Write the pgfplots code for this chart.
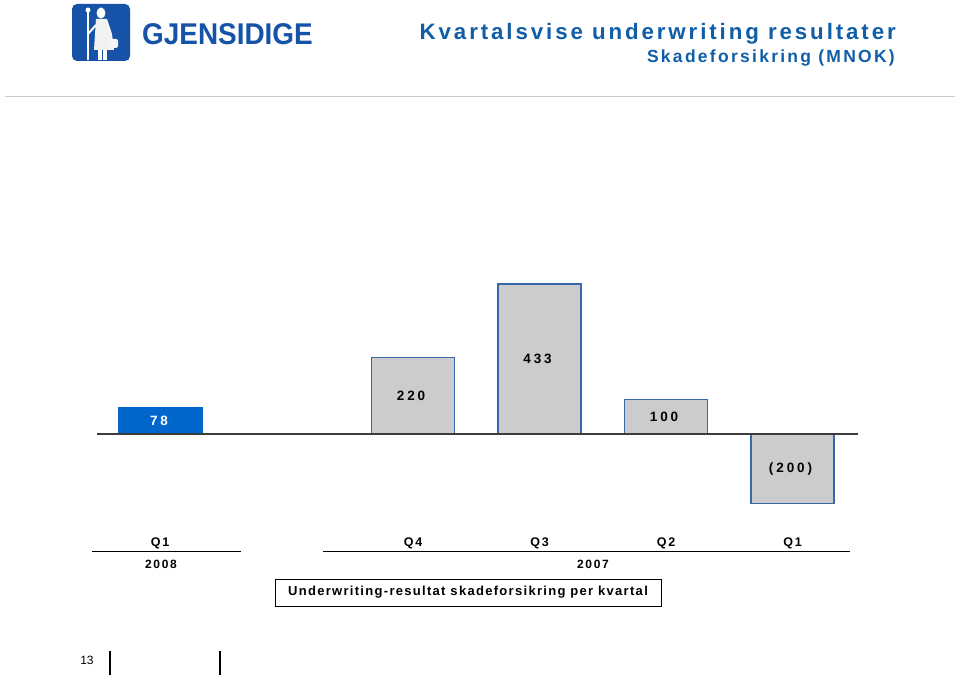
\documentclass[border=0pt]{standalone}
\usepackage{pgfplots}
\pgfplotsset{compat=1.18}
\usepackage{pgfplotstable}
\usepackage{fontspec}
\setmainfont{Liberation Sans}
\newfontfamily\titlefont[LetterSpace=13]{Liberation Sans}
\newfontfamily\lblfont[LetterSpace=14]{Liberation Sans}
\newfontfamily\numfont[LetterSpace=22]{Liberation Sans}
\newfontfamily\boxfont[LetterSpace=10]{Liberation Sans}
\newfontfamily\logofont[FakeStretch=0.93]{Liberation Sans}
\definecolor{titleblue}{RGB}{16,94,168}
\definecolor{logoblue}{RGB}{22,82,168}
\definecolor{barblue}{RGB}{0,102,204}
\definecolor{bargray}{RGB}{204,204,204}
\definecolor{edgeblue}{RGB}{55,105,170}
\definecolor{sepgray}{RGB}{205,205,205}
\definecolor{zeroline}{RGB}{60,60,60}

\pgfplotstableread{
x v label
0 78 78
}\bluedata

\pgfplotstableread{
x v label
2 220 220
3 433 433
4 100 100
5 -200 (200)
}\greydata

\begin{document}
\begin{tikzpicture}[x=1pt,y=1pt]
\path[use as bounding box, fill=white] (0pt,0pt) rectangle (960pt,678pt);
\begin{axis}[
  at={(96.75pt,145.27pt)}, anchor=south west,
  scale only axis, width=759pt, height=254.6pt,
  xmin=-0.5, xmax=5.5, ymin=-285, ymax=450,
  axis line style={draw=none},
  ytick=\empty,
  xtick={0,2,3,4,5},
  xticklabels={Q1,Q4,Q3,Q2,Q1},
  major tick length=0pt,
  xticklabel style={font=\lblfont\bfseries\fontsize{12.5}{12.5}\selectfont, text=black, yshift=-2pt},
  clip=false,
]
\addplot[ybar, bar width=84pt, bar shift=0pt, fill=barblue, draw=barblue] table[x=x, y=v] {\bluedata};
\addplot[ybar, bar width=83pt, bar shift=0pt, fill=bargray, draw=edgeblue, line width=1.1pt] table[x=x, y=v] {\greydata};
\draw[zeroline, line width=1.6pt] (axis cs:-0.5,0) -- (axis cs:5.52,0);
\addplot[draw=none, mark=none, nodes near coords, point meta=explicit symbolic,
  every node near coord/.append style={anchor=center, xshift=-1pt, text=white, font=\numfont\bfseries\fontsize{13.5}{13.5}\selectfont}]
  table[x=x, y expr=\thisrow{v}/2, meta=label] {\bluedata};
\addplot[draw=none, mark=none, nodes near coords, point meta=explicit symbolic,
  every node near coord/.append style={anchor=center, xshift=-2pt, text=black, font=\numfont\bfseries\fontsize{13.5}{13.5}\selectfont}]
  table[x=x, y expr=\thisrow{v}/2, meta=label] {\greydata};
\end{axis}
\begin{scope}[shift={(0pt,678pt)}, yscale=-1]
  % logo
  \fill[logoblue, rounded corners=5pt] (72,4) rectangle (130,61);
  \fill[white] (88,10) circle (2.5);
  \draw[white, line width=1.3pt] (88,10) -- (88,60);
  \fill[white] (101,13) ellipse (4.5 and 5.5);
  \fill[white!90!gray] (96,19) -- (107,19) -- (112,34) -- (114,50) -- (94,50) -- (95,34) -- cycle;
  \draw[white, line width=2pt] (96,25) -- (88,34);
  \fill[white] (98,50) rectangle (102,60);
  \fill[white] (103,50) rectangle (107,60);
  \fill[white!92!gray, rounded corners=1.5pt] (109,39) rectangle (118,48);
  \node[anchor=base west, inner sep=0pt, text=logoblue, font=\logofont\bfseries\fontsize{30}{30}\selectfont] at (142,45) {GJENSIDIGE};
  % title
  \node[anchor=base east, inner sep=0pt, text=titleblue, font=\titlefont\bfseries\fontsize{22.3}{24}\selectfont] at (896,40) {Kvartalsvise underwriting resultater};
  \node[anchor=base east, inner sep=0pt, text=titleblue, font=\titlefont\bfseries\fontsize{17.5}{19}\selectfont] at (895,62.5) {Skadeforsikring (MNOK)};
  \draw[sepgray, line width=1pt] (5,97) -- (955,97);
  % category underlines and years
  \draw[black, line width=1pt] (92,551) -- (241,551);
  \draw[black, line width=1pt] (323,551) -- (850,551);
  \node[font=\lblfont\bfseries\fontsize{12}{12}\selectfont] at (161,564) {2008};
  \node[font=\lblfont\bfseries\fontsize{12}{12}\selectfont] at (593,564) {2007};
  \node[draw=black, line width=0.9pt, minimum width=386pt, minimum height=27pt, inner sep=0pt, font=\boxfont\bfseries\fontsize{13}{13}\selectfont] at (468,592.5) {Underwriting-resultat skadeforsikring per kvartal};
  % footer
  \node[font=\fontsize{12}{12}\selectfont] at (87,660) {13};
  \draw[black, line width=1.3pt] (110,651) -- (110,675);
  \draw[black, line width=1.3pt] (220,651) -- (220,675);
\end{scope}
\end{tikzpicture}
\end{document}
